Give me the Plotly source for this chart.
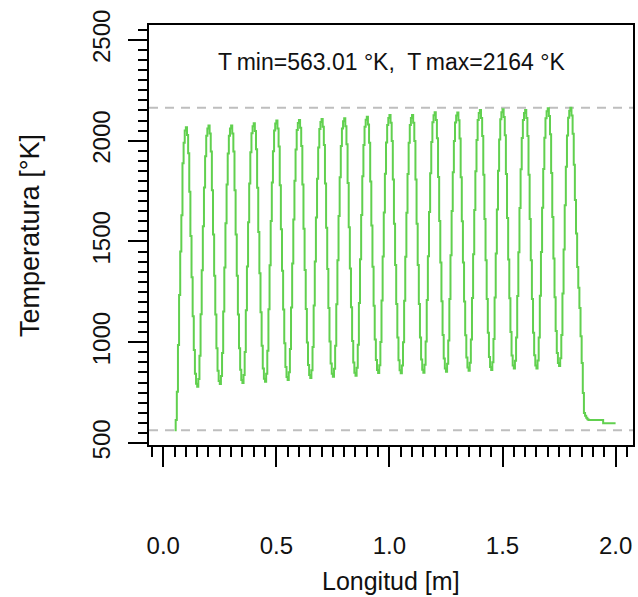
import plotly.graph_objects as go

# Longitud [m] sample positions (every 5 mm)
longitud = [
    0.050, 0.055, 0.060, 0.065, 0.070, 0.075, 0.080, 0.085, 0.090, 0.095, 0.100,
    0.105, 0.110, 0.115, 0.120, 0.125, 0.130, 0.135, 0.140, 0.145, 0.150, 0.155, 0.160, 0.165, 0.170, 0.175, 0.180, 0.185, 0.190, 0.195, 0.200,
    0.205, 0.210, 0.215, 0.220, 0.225, 0.230, 0.235, 0.240, 0.245, 0.250, 0.255, 0.260, 0.265, 0.270, 0.275, 0.280, 0.285, 0.290, 0.295, 0.300,
    0.305, 0.310, 0.315, 0.320, 0.325, 0.330, 0.335, 0.340, 0.345, 0.350, 0.355, 0.360, 0.365, 0.370, 0.375, 0.380, 0.385, 0.390, 0.395, 0.400,
    0.405, 0.410, 0.415, 0.420, 0.425, 0.430, 0.435, 0.440, 0.445, 0.450, 0.455, 0.460, 0.465, 0.470, 0.475, 0.480, 0.485, 0.490, 0.495, 0.500,
    0.505, 0.510, 0.515, 0.520, 0.525, 0.530, 0.535, 0.540, 0.545, 0.550, 0.555, 0.560, 0.565, 0.570, 0.575, 0.580, 0.585, 0.590, 0.595, 0.600,
    0.605, 0.610, 0.615, 0.620, 0.625, 0.630, 0.635, 0.640, 0.645, 0.650, 0.655, 0.660, 0.665, 0.670, 0.675, 0.680, 0.685, 0.690, 0.695, 0.700,
    0.705, 0.710, 0.715, 0.720, 0.725, 0.730, 0.735, 0.740, 0.745, 0.750, 0.755, 0.760, 0.765, 0.770, 0.775, 0.780, 0.785, 0.790, 0.795, 0.800,
    0.805, 0.810, 0.815, 0.820, 0.825, 0.830, 0.835, 0.840, 0.845, 0.850, 0.855, 0.860, 0.865, 0.870, 0.875, 0.880, 0.885, 0.890, 0.895, 0.900,
    0.905, 0.910, 0.915, 0.920, 0.925, 0.930, 0.935, 0.940, 0.945, 0.950, 0.955, 0.960, 0.965, 0.970, 0.975, 0.980, 0.985, 0.990, 0.995, 1.000,
    1.005, 1.010, 1.015, 1.020, 1.025, 1.030, 1.035, 1.040, 1.045, 1.050, 1.055, 1.060, 1.065, 1.070, 1.075, 1.080, 1.085, 1.090, 1.095, 1.100,
    1.105, 1.110, 1.115, 1.120, 1.125, 1.130, 1.135, 1.140, 1.145, 1.150, 1.155, 1.160, 1.165, 1.170, 1.175, 1.180, 1.185, 1.190, 1.195, 1.200,
    1.205, 1.210, 1.215, 1.220, 1.225, 1.230, 1.235, 1.240, 1.245, 1.250, 1.255, 1.260, 1.265, 1.270, 1.275, 1.280, 1.285, 1.290, 1.295, 1.300,
    1.305, 1.310, 1.315, 1.320, 1.325, 1.330, 1.335, 1.340, 1.345, 1.350, 1.355, 1.360, 1.365, 1.370, 1.375, 1.380, 1.385, 1.390, 1.395, 1.400,
    1.405, 1.410, 1.415, 1.420, 1.425, 1.430, 1.435, 1.440, 1.445, 1.450, 1.455, 1.460, 1.465, 1.470, 1.475, 1.480, 1.485, 1.490, 1.495, 1.500,
    1.505, 1.510, 1.515, 1.520, 1.525, 1.530, 1.535, 1.540, 1.545, 1.550, 1.555, 1.560, 1.565, 1.570, 1.575, 1.580, 1.585, 1.590, 1.595, 1.600,
    1.605, 1.610, 1.615, 1.620, 1.625, 1.630, 1.635, 1.640, 1.645, 1.650, 1.655, 1.660, 1.665, 1.670, 1.675, 1.680, 1.685, 1.690, 1.695, 1.700,
    1.705, 1.710, 1.715, 1.720, 1.725, 1.730, 1.735, 1.740, 1.745, 1.750, 1.755, 1.760, 1.765, 1.770, 1.775, 1.780, 1.785, 1.790, 1.795, 1.800,
    1.805, 1.810, 1.815, 1.820, 1.825, 1.830, 1.835, 1.840, 1.845, 1.850, 1.855, 1.860, 1.865, 1.870, 1.875, 1.880, 1.885, 1.890, 1.895, 1.900,
    1.905, 1.910, 1.915, 1.920, 1.925, 1.930, 1.935, 1.940, 1.945, 1.950, 1.955, 1.960, 1.965, 1.970, 1.975, 1.980, 1.985, 1.990, 1.995, 2.000,
]

# Temperatura [°K]
temperatura = [
    563, 614, 754, 986, 1234, 1450, 1630, 1888, 1990, 2050, 2067,
    2028, 1938, 1746, 1527, 1322, 1129, 962, 844, 794, 779, 818, 933, 1139, 1357, 1576, 1768, 1923, 2025, 2060, 2075,
    2036, 1946, 1754, 1535, 1330, 1137, 970, 858, 808, 793, 832, 947, 1153, 1371, 1590, 1782, 1937, 2025, 2060, 2075,
    2036, 1946, 1754, 1535, 1330, 1137, 970, 863, 813, 798, 837, 952, 1158, 1376, 1595, 1787, 1942, 2037, 2072, 2087,
    2048, 1958, 1766, 1547, 1342, 1149, 982, 869, 819, 804, 843, 958, 1164, 1382, 1601, 1793, 1948, 2050, 2085, 2100,
    2061, 1971, 1779, 1560, 1355, 1162, 995, 877, 827, 812, 851, 966, 1172, 1390, 1609, 1801, 1956, 2053, 2088, 2103,
    2064, 1974, 1782, 1563, 1358, 1165, 998, 887, 837, 822, 861, 976, 1182, 1400, 1619, 1811, 1966, 2058, 2093, 2108,
    2069, 1979, 1787, 1568, 1363, 1170, 1003, 894, 844, 829, 868, 983, 1189, 1407, 1626, 1818, 1973, 2061, 2096, 2111,
    2072, 1982, 1790, 1571, 1366, 1173, 1006, 899, 849, 834, 873, 988, 1194, 1412, 1631, 1823, 1978, 2069, 2104, 2119,
    2080, 1990, 1798, 1579, 1374, 1181, 1014, 912, 862, 847, 886, 1001, 1207, 1425, 1644, 1836, 1991, 2078, 2113, 2128,
    2089, 1999, 1807, 1588, 1383, 1190, 1023, 911, 861, 846, 885, 1000, 1206, 1424, 1643, 1835, 1990, 2078, 2113, 2128,
    2089, 1999, 1807, 1588, 1383, 1190, 1023, 914, 864, 849, 888, 1003, 1209, 1427, 1646, 1838, 1993, 2091, 2126, 2141,
    2102, 2012, 1820, 1601, 1396, 1203, 1036, 919, 869, 854, 893, 1008, 1214, 1432, 1651, 1843, 1998, 2090, 2125, 2140,
    2101, 2011, 1819, 1600, 1395, 1202, 1035, 924, 874, 859, 898, 1013, 1219, 1437, 1656, 1848, 2003, 2102, 2137, 2152,
    2113, 2023, 1831, 1612, 1407, 1214, 1047, 927, 877, 862, 901, 1016, 1222, 1440, 1659, 1851, 2006, 2106, 2141, 2156,
    2117, 2027, 1835, 1616, 1411, 1218, 1051, 934, 884, 869, 908, 1023, 1229, 1447, 1666, 1858, 2013, 2102, 2137, 2152,
    2113, 2023, 1831, 1612, 1407, 1214, 1047, 935, 885, 870, 909, 1024, 1230, 1448, 1667, 1859, 2014, 2111, 2146, 2161,
    2122, 2032, 1840, 1621, 1416, 1223, 1056, 947, 897, 882, 921, 1036, 1242, 1460, 1679, 1871, 2026, 2114, 2149, 2164,
    2125, 2035, 1880, 1706, 1540, 1373, 1270, 1170, 1030, 897, 748, 649, 635, 625, 618, 614, 614, 614, 614, 614,
    614, 614, 614, 614, 614, 614, 614, 614, 598, 598, 598, 598, 598, 598, 598, 598, 598, 598, 598, 598,
]

T_MIN = 563.01
T_MAX = 2164

x_tickvals = [0.0, 0.5, 1.0, 1.5, 2.0]
x_ticktext = ["0.0", "0.5", "1.0", "1.5", "2.0"]
y_tickvals = [500, 1000, 1500, 2000, 2500]
y_ticktext = ["500", "1000", "1500", "2000", "2500"]

FONT = "Liberation Sans, Arial, sans-serif"
TXT = "#111111"

fig = go.Figure()
fig.add_trace(go.Scatter(
    x=longitud, y=temperatura, mode="lines",
    line=dict(color="#61D04F", width=2, shape="hv"),
    showlegend=False, hoverinfo="skip",
))

for val in (T_MIN, T_MAX):
    fig.add_shape(type="line", xref="paper", x0=0, x1=1, yref="y", y0=val, y1=val,
                  line=dict(color="#BEBEBE", width=2, dash="9px,7px"), layer="below")

fig.add_annotation(
    xref="paper", x=0.5, yref="y", y=2390,
    text=f"T\u2009min={T_MIN:.2f} \u00b0K,  T\u2009max={T_MAX} \u00b0K",
    showarrow=False, font=dict(family=FONT, size=23, color=TXT),
    xanchor="center", yanchor="middle",
)
fig.add_annotation(
    xref="paper", x=0.5, yref="paper", y=-0.323,
    text="Longitud [m]", showarrow=False,
    font=dict(family=FONT, size=25, color=TXT),
    xanchor="center", yanchor="middle",
)
fig.add_annotation(
    xref="paper", x=-0.246, yref="paper", y=0.5,
    text="Temperatura [\u00b0K]", showarrow=False, textangle=-90,
    font=dict(family=FONT, size=27, color=TXT),
    xanchor="center", yanchor="middle",
)

fig.update_xaxes(
    range=[-0.063, 2.077], tickvals=x_tickvals, ticktext=x_ticktext,
    ticks="outside", ticklen=20, tickwidth=2, tickcolor="black",
    showline=True, linewidth=2, linecolor="black", mirror=True,
    showgrid=False, zeroline=False, ticklabelstandoff=58,
    tickfont=dict(family=FONT, size=24, color=TXT),
    minor=dict(dtick=0.05, tick0=0, ticks="outside", ticklen=10, tickwidth=2,
               tickcolor="black", showgrid=False),
)
fig.update_yaxes(
    range=[490, 2574], tickvals=y_tickvals, ticktext=y_ticktext, tickangle=-90,
    ticks="outside", ticklen=19, tickwidth=2, tickcolor="black",
    showline=True, linewidth=2, linecolor="black", mirror=True,
    showgrid=False, zeroline=False, ticklabelstandoff=8,
    tickfont=dict(family=FONT, size=24, color=TXT),
    minor=dict(dtick=50, tick0=0, ticks="outside", ticklen=9, tickwidth=2,
               tickcolor="black", showgrid=False),
)

fig.update_layout(
    width=638, height=597,
    margin=dict(l=149, r=5, t=25, b=152, autoexpand=False),
    paper_bgcolor="white", plot_bgcolor="white",
)

fig.write_html("out.html")
